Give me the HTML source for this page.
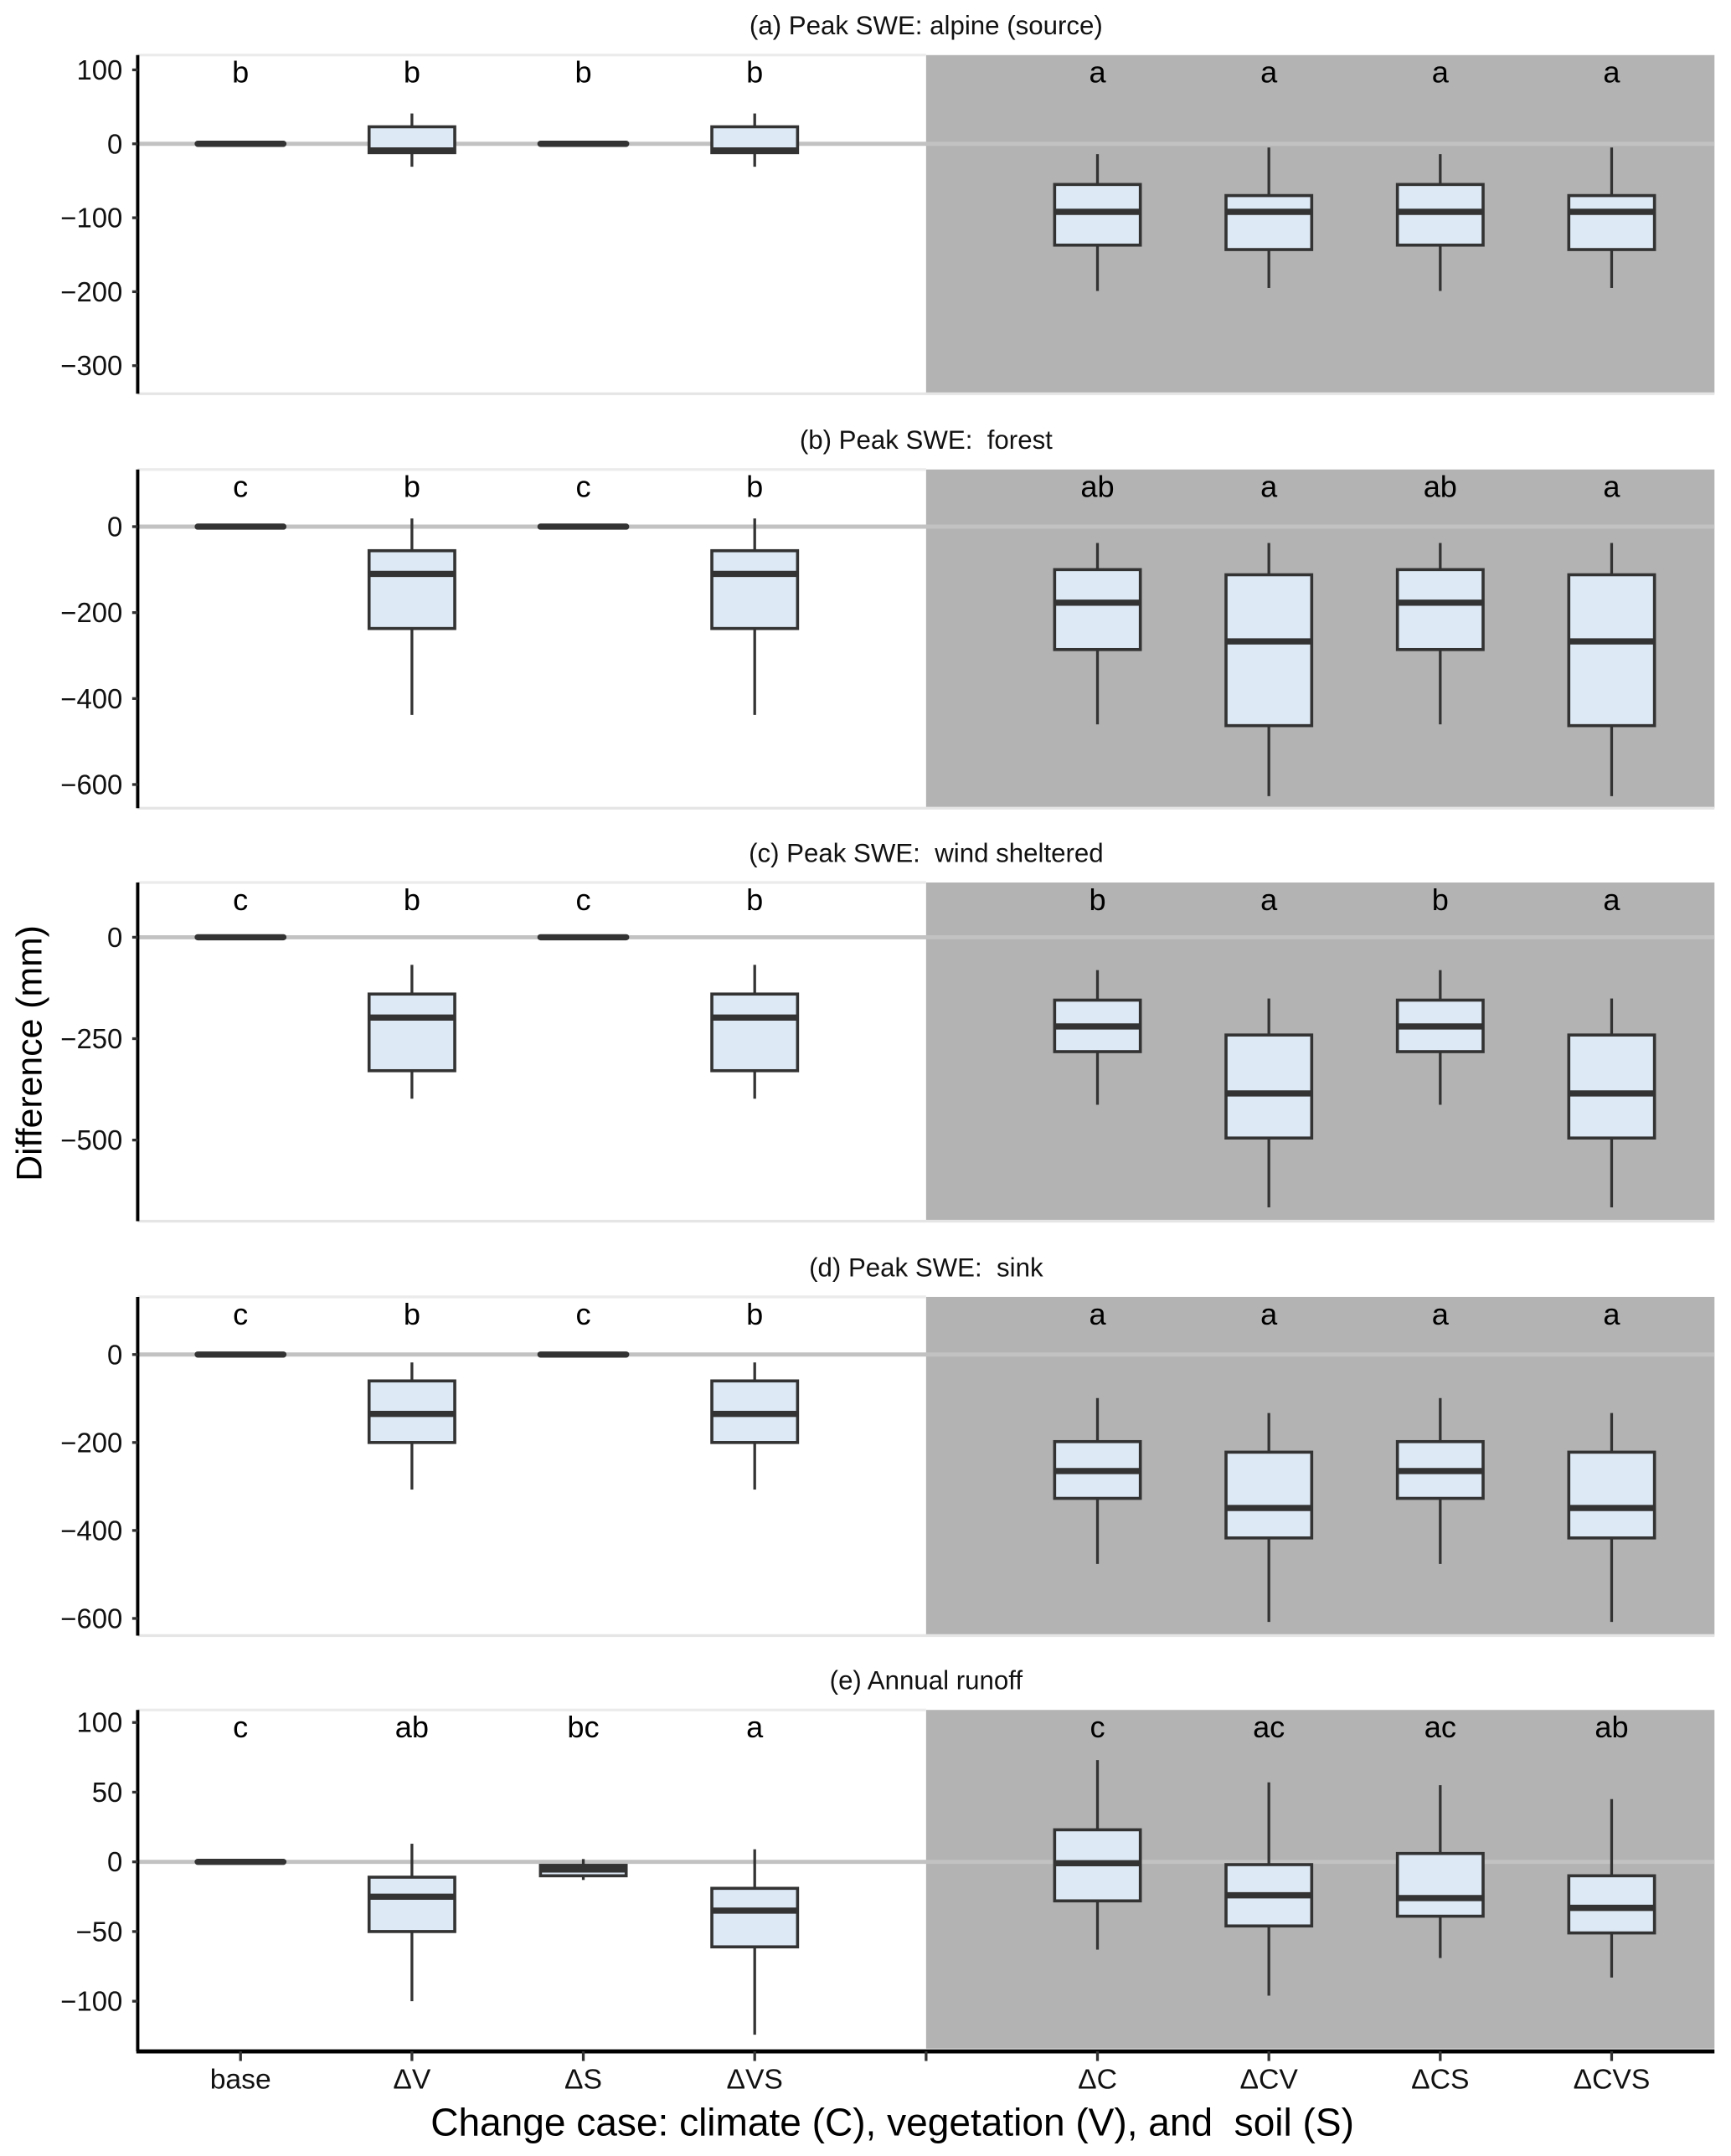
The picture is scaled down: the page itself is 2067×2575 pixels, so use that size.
<!DOCTYPE html>
<html><head><meta charset="utf-8"><style>
html,body{margin:0;padding:0;background:#fff;}
svg{display:block;font-family:"Liberation Sans",Arial,sans-serif;}
text{white-space:pre;}
</style></head><body>
<svg id="chart" width="2067" height="2575" viewBox="0 0 1257 1566" preserveAspectRatio="none" xmlns="http://www.w3.org/2000/svg">
<text x="0" y="0" transform="translate(30,765) rotate(-90)" text-anchor="middle" font-size="26" fill="#000">Difference (mm)</text>
<text x="648" y="1551" text-anchor="middle" font-size="28" fill="#000">Change case: climate (C), vegetation (V), and  soil (S)</text>
</svg>
<script>
const categories = ["base","ΔV","ΔS","ΔVS","","ΔC","ΔCV","ΔCS","ΔCVS"];
const panelTitles = ["(a) Peak SWE: alpine (source)","(b) Peak SWE:  forest","(c) Peak SWE:  wind sheltered","(d) Peak SWE:  sink","(e) Annual runoff"];
const panelDomains = [[120,-338],[133,-655],[135,-700],[131,-639],[109,-134]];
const panelTicks = [[100,0,-100,-200,-300],[0,-200,-400,-600],[0,-250,-500],[0,-200,-400,-600],[100,50,0,-50,-100]];
const letters = [
 ["b","b","b","b","","a","a","a","a"],
 ["c","b","c","b","","ab","a","ab","a"],
 ["c","b","c","b","","b","a","b","a"],
 ["c","b","c","b","","a","a","a","a"],
 ["c","ab","bc","a","","c","ac","ac","ab"]];
// each stat: [whiskerHigh, q3, median, q1, whiskerLow]
const statsA = [[0,0,0,0,0],[41,23,-9,-12,-31],[0,0,0,0,0],[41,23,-9,-12,-31],null,[-14,-55,-92,-137,-199],[-5,-70,-92,-143,-195],[-14,-55,-92,-137,-199],[-5,-70,-92,-143,-195]];
const statsB = [[0,0,0,0,0],[19,-56,-110,-237,-438],[0,0,0,0,0],[19,-56,-110,-237,-438],null,[-38,-100,-177,-286,-460],[-38,-112,-267,-463,-627],[-38,-100,-177,-286,-460],[-38,-112,-267,-463,-627]];
const statsC = [[0,0,0,0,0],[-68,-140,-198,-329,-398],[0,0,0,0,0],[-68,-140,-198,-329,-398],null,[-81,-155,-220,-282,-413],[-151,-241,-385,-495,-666],[-81,-155,-220,-282,-413],[-151,-241,-385,-495,-666]];
const statsD = [[0,0,0,0,0],[-18,-60,-135,-200,-307],[0,0,0,0,0],[-18,-60,-135,-200,-307],null,[-99,-198,-265,-327,-476],[-133,-222,-349,-417,-608],[-99,-198,-265,-327,-476],[-133,-222,-349,-417,-608]];
const statsE = [[0,0,0,0,0],[13,-11,-25,-50,-100],[2,-2.5,-5.5,-10,-13],[9,-19,-35,-61,-124],null,[73,23,-1,-28,-63],[57,-2,-24,-46,-96],[55,6,-26,-39,-69],[45,-10,-33,-51,-83]];
const allStats = [statsA,statsB,statsC,statsD,statsE];

const NS="http://www.w3.org/2000/svg";
const svg=document.getElementById("chart");
const L=100,R=1245;
const panelTops=[40,341,641,942,1242],PH=246;
const step=(R-L)/(categories.length-1+1.2);
function xPos(i){return L+0.6*step+i*step;}
function mk(tag,attrs,parent){const e=document.createElementNS(NS,tag);for(const k in attrs)e.setAttribute(k,attrs[k]);(parent||svg).appendChild(e);return e;}
const bw=step*0.5;

allStats.forEach((stats,p)=>{
  const top=panelTops[p],bot=top+PH,[d0,d1]=panelDomains[p];
  const y=v=>top+(d0-v)/(d0-d1)*PH;
  const g=mk("g",{});
  
  
  const t=mk("text",{x:(L+R)/2,y:top-15,"text-anchor":"middle","font-size":19,fill:"#111"},g);
  t.textContent=panelTitles[p];
  
  
  const gx=xPos(4);
  const bg=mk("rect",{x:gx,y:top,width:R-gx,height:PH,fill:"#b3b3b3"},g);
  
  
  mk("line",{x1:L,x2:gx,y1:top,y2:top,stroke:"#ebebeb","stroke-width":2},g);
  if(p<4)mk("line",{x1:L,x2:R,y1:bot,y2:bot,stroke:"#e5e5e5","stroke-width":2},g);
  const zl=mk("line",{x1:L,x2:R,y1:y(0),y2:y(0),stroke:"#c2c2c2","stroke-width":3},g);
  
  
  mk("line",{x1:L,x2:L,y1:top,y2:bot+(p==4?2:0),stroke:"#000","stroke-width":2.4},g);
  panelTicks[p].forEach(v=>{
    mk("line",{x1:L-4,x2:L,y1:y(v),y2:y(v),stroke:"#333","stroke-width":2},g);
    const tl=mk("text",{x:L-11,y:y(v)+7,"text-anchor":"end","font-size":20,fill:"#111"},g);
    tl.textContent=v<0?"\u2212"+(-v):String(v);
    
    
  });
  stats.forEach((s,i)=>{
    const cx=xPos(i);
    if(letters[p][i]){
      const lt=mk("text",{x:cx,y:top+20,"text-anchor":"middle","font-size":22,fill:"#000"},g);
      lt.textContent=letters[p][i];
      
      
    }
    if(!s)return;
    const bg2=mk("g",{},g);
    
    
    const [wh,q3,md,q1,wl]=s;
    mk("line",{x1:cx,x2:cx,y1:y(wh),y2:y(q3),stroke:"#333","stroke-width":2},bg2);
    mk("line",{x1:cx,x2:cx,y1:y(q1),y2:y(wl),stroke:"#333","stroke-width":2},bg2);
    const hgt=Math.max(y(q1)-y(q3),0.5);
    mk("rect",{x:cx-bw/2,y:y(q3),width:bw,height:hgt,fill:"#dde9f5",stroke:"#333","stroke-width":2.2},bg2);
    mk("line",{x1:cx-bw/2,x2:cx+bw/2,y1:y(md),y2:y(md),stroke:"#333","stroke-width":4.5,"stroke-linecap":hgt<2?"round":"butt"},bg2);
  });
});
// bottom x axis
const by=panelTops[4]+PH+2;
mk("line",{x1:L-1,x2:R,y1:by,y2:by,stroke:"#000","stroke-width":3});
categories.forEach((c,i)=>{
  mk("line",{x1:xPos(i),x2:xPos(i),y1:by,y2:by+7,stroke:"#333","stroke-width":2});
  if(c){
    const xl=mk("text",{x:xPos(i),y:by+27,"text-anchor":"middle","font-size":20.5,fill:"#111"});
    xl.textContent=c;
    
    
  }
});
</script>
</body></html>
